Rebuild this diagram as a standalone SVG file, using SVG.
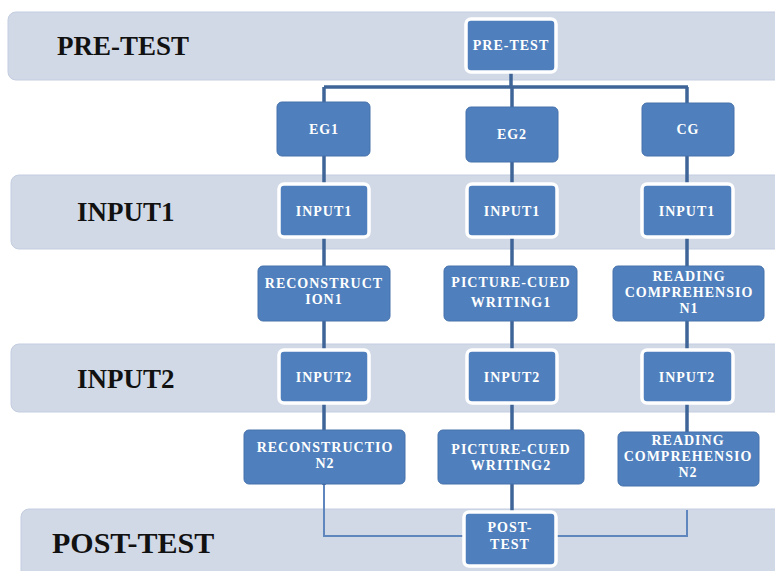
<svg xmlns="http://www.w3.org/2000/svg" width="775" height="571" viewBox="0 0 775 571">
<style>
.band{fill:#d1d9e7;stroke:#c3cde0;stroke-width:1}
.lbl{font-family:"Liberation Serif",serif;font-weight:bold;fill:#111;font-size:27px}
.node{fill:#4f7fbc;stroke:#4672ac;stroke-width:1}
.wnode{fill:#4f7fbc;stroke:#ffffff;stroke-width:3.5}
.t{font-family:"Liberation Serif",serif;font-weight:bold;fill:#ffffff;font-size:14px;letter-spacing:1px;text-anchor:middle}
.c{fill:none;stroke:#3f6598;stroke-width:3.5}
.c2{fill:none;stroke:#5f86bd;stroke-width:2}
</style>
<rect width="775" height="571" fill="#ffffff"/>
<g id="bands">
<rect class="band" x="8" y="12" width="790" height="68" rx="8"/>
<rect class="band" x="11" y="175" width="790" height="74" rx="8"/>
<rect class="band" x="11" y="344" width="790" height="68" rx="8"/>
<rect class="band" x="21" y="509" width="790" height="90" rx="8"/>
<text class="lbl" x="57" y="55">PRE-TEST</text>
<text class="lbl" x="77" y="221">INPUT1</text>
<text class="lbl" x="77" y="388">INPUT2</text>
<text class="lbl" x="52" y="553" style="font-size:30px">POST-TEST</text>
</g>
<g id="connectors">
<path class="c" d="M511 71 V87 M324 87 H688 M324 87 V485 M512 87 V511 M687 87 V432"/>
<path class="c2" d="M324 485 V536 H463 M687 510 V536 H557"/>
</g>
<g id="n-pretest"><rect class="wnode" x="466" y="19" width="90" height="53" rx="5"/><text class="t" x="511" y="50">PRE-TEST</text></g>
<g id="n-eg1"><rect class="node" x="277" y="102" width="93" height="54" rx="5"/><text class="t" x="324" y="134">EG1</text></g>
<g id="n-eg2"><rect class="node" x="466" y="107" width="92" height="55" rx="5"/><text class="t" x="512" y="139">EG2</text></g>
<g id="n-cg"><rect class="node" x="642" y="103" width="92" height="53" rx="5"/><text class="t" x="688" y="134">CG</text></g>
<g id="n-input1a"><rect class="wnode" x="279" y="184" width="90" height="53" rx="5"/><text class="t" x="324" y="216">INPUT1</text></g>
<g id="n-input1b"><rect class="wnode" x="467" y="184" width="90" height="53" rx="5"/><text class="t" x="512" y="216">INPUT1</text></g>
<g id="n-input1c"><rect class="wnode" x="642" y="184" width="91" height="53" rx="5"/><text class="t" x="687" y="216">INPUT1</text></g>
<g id="n-recon1"><rect class="node" x="258" y="266" width="132" height="55" rx="5"/><text class="t" x="324" y="288">RECONSTRUCT</text><text class="t" x="324" y="304">ION1</text></g>
<g id="n-pcw1"><rect class="node" x="444" y="266" width="133" height="55" rx="5"/><text class="t" x="511" y="287">PICTURE-CUED</text><text class="t" x="511" y="307">WRITING1</text></g>
<g id="n-rc1"><rect class="node" x="613" y="266" width="151" height="55" rx="5"/><text class="t" x="689" y="281">READING</text><text class="t" x="689" y="297">COMPREHENSIO</text><text class="t" x="689" y="313">N1</text></g>
<g id="n-input2a"><rect class="wnode" x="279" y="350" width="90" height="53" rx="5"/><text class="t" x="324" y="382">INPUT2</text></g>
<g id="n-input2b"><rect class="wnode" x="467" y="350" width="90" height="53" rx="5"/><text class="t" x="512" y="382">INPUT2</text></g>
<g id="n-input2c"><rect class="wnode" x="642" y="350" width="91" height="53" rx="5"/><text class="t" x="687" y="382">INPUT2</text></g>
<g id="n-recon2"><rect class="node" x="244" y="430" width="161" height="54" rx="5"/><text class="t" x="325" y="452">RECONSTRUCTIO</text><text class="t" x="325" y="468">N2</text></g>
<g id="n-pcw2"><rect class="node" x="438" y="430" width="146" height="54" rx="5"/><text class="t" x="511" y="454">PICTURE-CUED</text><text class="t" x="511" y="470">WRITING2</text></g>
<g id="n-rc2"><rect class="node" x="618" y="432" width="141" height="54" rx="5"/><text class="t" x="688" y="445">READING</text><text class="t" x="688" y="461">COMPREHENSIO</text><text class="t" x="688" y="477">N2</text></g>
<g id="n-posttest"><rect class="wnode" x="464" y="512" width="92" height="54" rx="5"/><text class="t" x="510" y="532">POST-</text><text class="t" x="510" y="549">TEST</text></g>
</svg>
